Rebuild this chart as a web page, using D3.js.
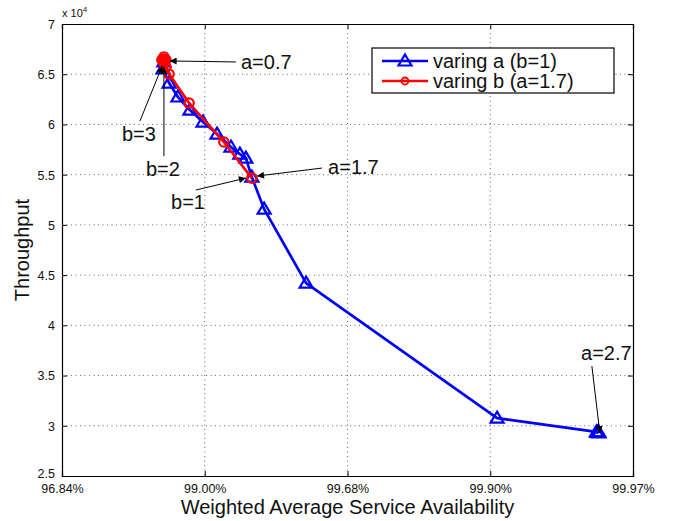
<!DOCTYPE html>
<html>
<head>
<meta charset="utf-8">
<script src="https://cdn.jsdelivr.net/npm/d3@7"></script>
<style>
  html, body { margin: 0; padding: 0; background: #fff; }
  svg { display: block; font-family: "Liberation Sans", Arial, Helvetica, sans-serif; }
</style>
</head>
<body>
<svg id="chart" width="678" height="521"></svg>
<script>
// x values are "nines" of availability: -log10(1 - A)
const xTickValues = [1.5, 2, 2.5, 3, 3.5];
const xTickLabels = ["96.84%", "99.00%", "99.68%", "99.90%", "99.97%"];
const yTickValues = [25000, 30000, 35000, 40000, 45000, 50000, 55000, 60000, 65000, 70000];
const yTickLabels = ["2.5", "3", "3.5", "4", "4.5", "5", "5.5", "6", "6.5", "7"];

// varing a (b=1)
const seriesA_x = [1.857, 1.854, 1.875, 1.906, 1.948, 1.994, 2.043, 2.092, 2.123, 2.144, 2.165, 2.208, 2.355, 3.024, 3.372, 3.375, 3.377, 3.379, 3.381];
const seriesA_y = [66220, 65520, 64120, 62730, 61430, 60240, 59040, 57750, 57050, 56650, 54760, 51570, 44200, 30760, 29400, 29330, 29360, 29380, 29300];

// varing b (a=1.7)
const seriesB_x = [2.165, 2.067, 1.945, 1.875, 1.864, 1.857, 1.850, 1.864, 1.857, 1.857, 1.857];
const seriesB_y = [54660, 58250, 62130, 65020, 65720, 66120, 66420, 66420, 66720, 66520, 66320];

const legendLabels = ["varing a (b=1)", "varing b (a=1.7)"];

// annotations: text position (start, vertical centre) and arrow tail -> head, in data units
const annotations = [
  { text: "a=0.7", tx: 2.127, ty: 66220, x1: 2.109, y1: 66220, x2: 1.877, y2: 66320 },
  { text: "b=3",   tx: 1.710, ty: 59040, x1: 1.773, y1: 60340, x2: 1.851, y2: 65820 },
  { text: "b=2",   tx: 1.794, ty: 55560, x1: 1.857, y1: 56850, x2: 1.857, y2: 65720 },
  { text: "b=1",   tx: 1.882, ty: 52270, x1: 1.969, y1: 53470, x2: 2.144, y2: 54660 },
  { text: "a=1.7", tx: 2.432, ty: 55760, x1: 2.411, y1: 55660, x2: 2.183, y2: 54860 },
  { text: "a=2.7", tx: 3.318, ty: 37230, x1: 3.356, y1: 35940, x2: 3.384, y2: 29260 }
];

const svg = d3.select("#chart");
const margin = { left: 62, top: 24, right: 45, bottom: 45 };
const W = 678, H = 521;
const x0 = margin.left, x1 = W - margin.right, y0 = margin.top, y1 = H - margin.bottom;

const x = d3.scaleLinear().domain([1.5, 3.5]).range([x0, x1]);
const y = d3.scaleLinear().domain([25000, 70000]).range([y1, y0]);

const defs = svg.append("defs");
defs.append("marker").attr("id", "arrow").attr("viewBox", "0 0 10 10")
  .attr("refX", 10).attr("refY", 5).attr("markerWidth", 9).attr("markerHeight", 7)
  .attr("markerUnits", "userSpaceOnUse").attr("orient", "auto")
  .append("path").attr("d", "M0,0 L10,5 L0,10 Z").attr("fill", "#000");

// grid
const grid = svg.append("g");
grid.selectAll(".gx").data(xTickValues.slice(1, -1)).enter().append("line")
  .attr("x1", d => x(d)).attr("x2", d => x(d)).attr("y1", y0).attr("y2", y1)
  .attr("stroke", "#444").attr("stroke-width", 0.8).attr("stroke-dasharray", "1,3.5");
grid.selectAll(".gy").data(yTickValues.slice(1, -1)).enter().append("line")
  .attr("x1", x0).attr("x2", x1).attr("y1", d => y(d)).attr("y2", d => y(d))
  .attr("stroke", "#444").attr("stroke-width", 0.8).attr("stroke-dasharray", "1,3.5");

// axes (ticks inward on all sides)
const tickLen = 5;
const axB = svg.append("g").attr("transform", `translate(0,${y1})`)
  .call(d3.axisBottom(x).tickValues(xTickValues).tickSize(-tickLen).tickPadding(6)
    .tickFormat((d, i) => xTickLabels[i]));
const axT = svg.append("g").attr("transform", `translate(0,${y0})`)
  .call(d3.axisTop(x).tickValues(xTickValues).tickSize(-tickLen).tickFormat(""));
const axL = svg.append("g").attr("transform", `translate(${x0},0)`)
  .call(d3.axisLeft(y).tickValues(yTickValues).tickSize(-tickLen).tickPadding(7)
    .tickFormat((d, i) => yTickLabels[i]));
const axR = svg.append("g").attr("transform", `translate(${x1},0)`)
  .call(d3.axisRight(y).tickValues(yTickValues).tickSize(-tickLen).tickFormat(""));
[axB, axT, axL, axR].forEach(g => {
  g.selectAll(".domain").attr("stroke", "#000").attr("stroke-width", 1.2);
  g.selectAll(".tick line").attr("stroke", "#000");
  g.selectAll("text").attr("font-size", 12.5).attr("fill", "#111")
    .attr("font-family", "'Liberation Sans', Arial, sans-serif");
});
axB.selectAll("text").attr("dy", "0.9em");
axL.selectAll("text").attr("dy", (d, i) => i === 0 ? "0.15em" : "0.35em");

// exponent label
const expo = svg.append("text").attr("x", x0).attr("y", y0 - 7)
  .attr("font-size", 11).attr("fill", "#111");
expo.append("tspan").text("x 10");
expo.append("tspan").attr("dy", -5).attr("font-size", 8).text("4");

// axis titles
svg.append("text").attr("x", (x0 + x1) / 2).attr("y", 514)
  .attr("text-anchor", "middle").attr("font-size", 20).attr("fill", "#111")
  .text("Weighted Average Service Availability");
svg.append("text").attr("transform", `translate(29,${(y0 + y1) / 2}) rotate(-90)`)
  .attr("text-anchor", "middle").attr("font-size", 20).attr("fill", "#111")
  .text("Throughput");

// series
const triPath = "M0,-6.5 L6.5,4.5 L-6.5,4.5 Z";
const plot = svg.append("g");
function drawSeries(xs, ys, color, marker) {
  const pts = xs.map((v, i) => [x(v), y(ys[i])]);
  plot.append("path").attr("d", d3.line()(pts)).attr("fill", "none")
    .attr("stroke", color).attr("stroke-width", 2.7).attr("stroke-linejoin", "round");
  const g = plot.append("g");
  pts.forEach(p => {
    if (marker === "tri") {
      g.append("path").attr("d", triPath).attr("transform", `translate(${p[0]},${p[1]})`)
        .attr("fill", "none").attr("stroke", color).attr("stroke-width", 2.2);
    } else {
      g.append("circle").attr("cx", p[0]).attr("cy", p[1]).attr("r", 4.7)
        .attr("fill", "none").attr("stroke", color).attr("stroke-width", 2.2);
    }
  });
}
drawSeries(seriesA_x, seriesA_y, "#0000ff", "tri");
drawSeries(seriesB_x, seriesB_y, "#ff0000", "circle");

// annotations
const ann = svg.append("g");
annotations.forEach(a => {
  ann.append("line").attr("x1", x(a.x1)).attr("y1", y(a.y1)).attr("x2", x(a.x2)).attr("y2", y(a.y2))
    .attr("stroke", "#000").attr("stroke-width", 1).attr("marker-end", "url(#arrow)");
  ann.append("text").attr("x", x(a.tx)).attr("y", y(a.ty)).attr("dy", "0.35em")
    .attr("font-size", 20).attr("fill", "#111").text(a.text);
});

// legend
const lg = svg.append("g");
lg.append("rect").attr("x", 372).attr("y", 48).attr("width", 242).attr("height", 45)
  .attr("fill", "#fff").attr("stroke", "#000").attr("stroke-width", 1.2);
const legColors = ["#0000ff", "#ff0000"];
legendLabels.forEach((lab, i) => {
  const ly = 61 + i * 20;
  lg.append("line").attr("x1", 382).attr("x2", 428).attr("y1", ly).attr("y2", ly)
    .attr("stroke", legColors[i]).attr("stroke-width", 2.7);
  if (i === 0) {
    lg.append("path").attr("d", triPath).attr("transform", `translate(405,${ly})`)
      .attr("fill", "none").attr("stroke", legColors[i]).attr("stroke-width", 2.2);
  } else {
    lg.append("circle").attr("cx", 405).attr("cy", ly).attr("r", 3.5)
      .attr("fill", "none").attr("stroke", legColors[i]).attr("stroke-width", 1.8);
  }
  lg.append("text").attr("x", 433).attr("y", ly).attr("dy", "0.35em")
    .attr("font-size", 20).attr("fill", "#111").text(lab);
});
</script>
</body>
</html>
